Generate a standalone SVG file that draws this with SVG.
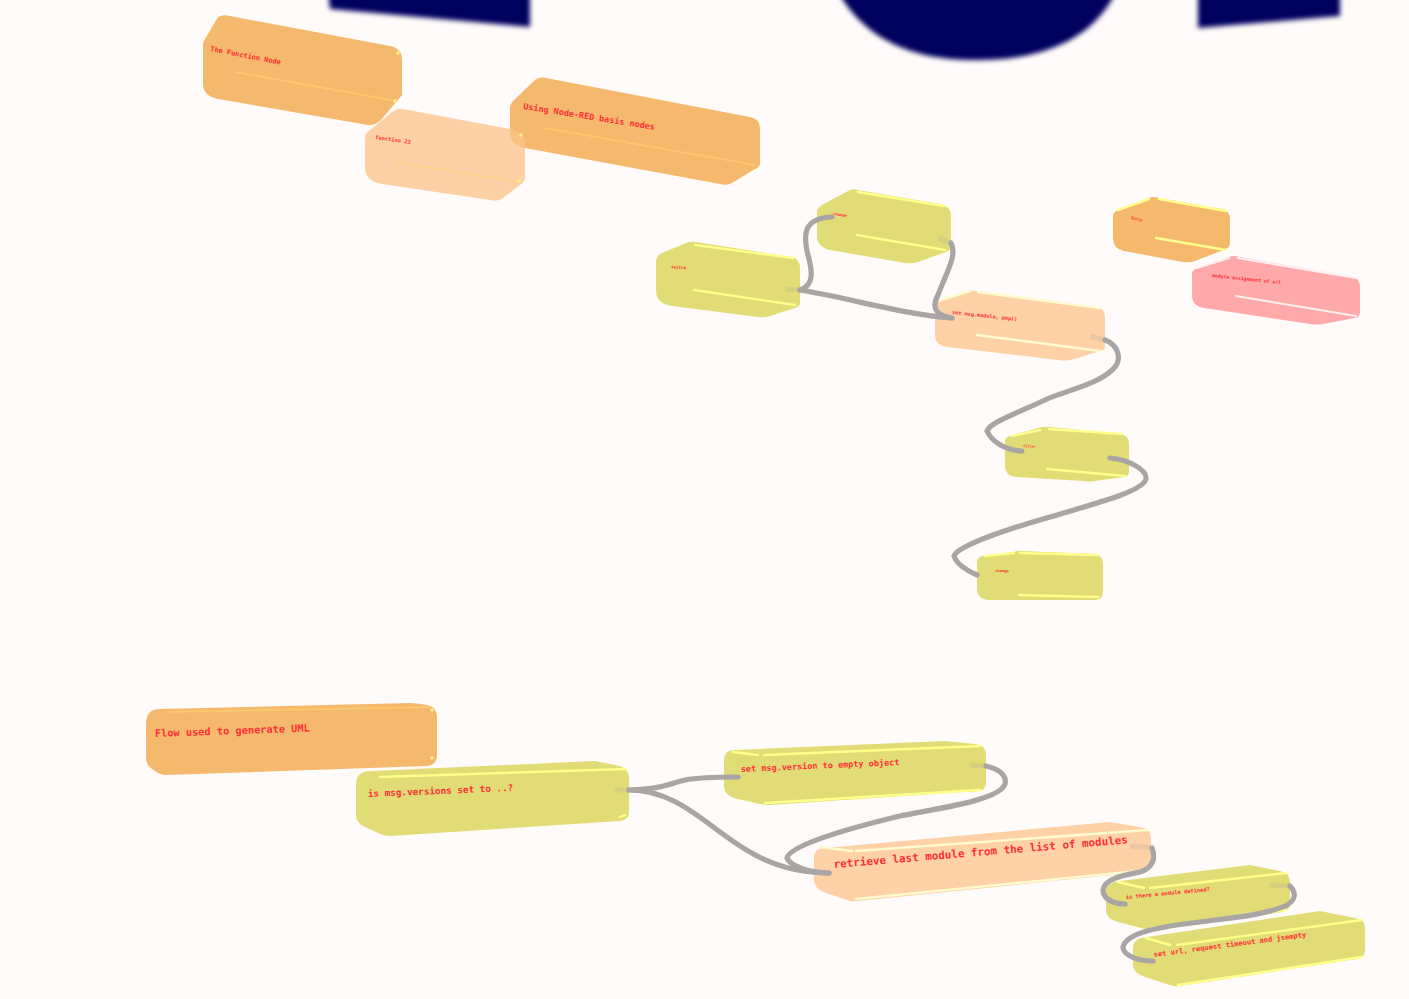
<svg xmlns="http://www.w3.org/2000/svg" width="1409" height="999" viewBox="0 0 1409 999">
<style>
.o{fill:#f5b96e}
.y{fill:#e2dc76}
.p{fill:#fed2a6}
.k{fill:#ffa9ab}
.t{fill:#fdc48a;opacity:.76}
.hl{fill:none;stroke:#ffff8c;stroke-width:2.4;stroke-linecap:round}
.hf{fill:none;stroke:#ffd66e;stroke-width:1.6;stroke-linecap:round;opacity:.6}
.hp{fill:none;stroke:#fffbd0;stroke-width:2.4;stroke-linecap:round}
.hk{fill:none;stroke:#fff0f0;stroke-width:2;stroke-linecap:round}
.dot{fill:#ffec8a}
text{font-family:"DejaVu Sans Mono","Liberation Mono",monospace;fill:#ff2f36;font-weight:700}
.w{fill:none;stroke:#a9a5a5;stroke-width:5.2;stroke-linecap:round}
.s{fill:none;stroke:#a9a5a5;stroke-width:5.2;opacity:.22}
.b{fill:#05005f}
</style>
<defs><filter id="blur" x="-10%" y="-30%" width="120%" height="160%"><feGaussianBlur stdDeviation="2.8"/></filter></defs>
<rect width="1409" height="999" fill="#fffbfa"/>
<g id="blobs" filter="url(#blur)">
<polygon class="b" points="328,-10 530,-10 530,27 330,9"/>
<path class="b" d="M838,-8C860,30 900,61 978,60C1050,60 1095,35 1116,-8Z"/>
<polygon class="b" points="1198,-10 1340,-10 1340,16 1198,28"/>
</g>
<g id="node-using"><path class="o" d="M535,80Q540,76 546,78L750,117Q760,119 760,128V163Q760,167 755,169L732,183Q727,186 720,184L525,148Q510,145 510,132V108Q510,104 514,100Z"/><path class="hf" d="M545,128L755,165"/><text transform="translate(523,109) rotate(9)" font-size="8.5">Using Node-RED basis nodes</text></g>
<g id="node-function23"><path class="t" d="M392,112Q397,108 403,109L510,129Q525,132 525,145V178Q525,182 520,185L503,198Q498,202 490,200L382,184Q365,181 365,168V138Q365,133 370,130Z"/><path class="hf" d="M395,162L520,182"/><circle class="dot" cx="521" cy="135" r="1.8"/><circle class="dot" cx="519" cy="181" r="1.8"/><text transform="translate(375,139) rotate(8)" font-size="5.4">function 23</text></g>
<g id="node-function"><path class="o" d="M218,17Q223,14 230,16L390,46Q402,48 402,60V95L381,120Q375,126 368,125L218,99Q203,96 203,84V45Q203,42 205,39Z"/><path class="hf" d="M235,72L397,101"/><circle class="dot" cx="398" cy="53" r="1.8"/><circle class="dot" cx="395" cy="101" r="1.8"/><text transform="translate(210,51) rotate(11)" font-size="7">The Function Node</text></g>
<g id="node-switch"><path class="y" d="M686,243Q690,241 696,242L790,257Q800,258 800,268V303Q800,306 795,308L770,316Q765,318 758,317L672,306Q656,304 656,290V262Q656,256 662,253Z"/><path class="hl" d="M694,290L795,305M695,245L793,258"/><text transform="translate(671,268) rotate(6)" font-size="4.2">switch</text></g>
<g id="node-change1"><path class="y" d="M848,191Q852,188 858,190L940,204Q951,206 951,216V246Q951,250 946,252L918,262Q912,264 905,263L830,250Q817,247 817,236V212Q817,208 822,205Z"/><path class="hl" d="M857,235L945,250M858,192L944,206"/><text transform="translate(833,215) rotate(8)" font-size="3.8">change</text></g>
<g id="node-setmodule"><path class="p" d="M968,291Q972,290 978,291L1097,307Q1105,308 1105,318V347Q1105,350 1100,351L1071,360Q1065,361 1058,360L947,347Q935,345 935,335V307Q935,303 940,300Z"/><path class="hp" d="M977,335L1100,351M978,292L1100,308M938,301L970,291"/><text transform="translate(952,314) rotate(6)" font-size="5.2">set msg.module, pop()</text></g>
<g id="node-filter"><path class="y" d="M1038,428Q1043,426 1050,427L1120,434Q1129,435 1129,444V472Q1129,476 1124,477L1095,481Q1090,482 1083,481L1016,477Q1005,476 1005,466V441Q1005,437 1010,436Z"/><path class="hl" d="M1047,469L1125,476M1049,429L1122,434M1012,436L1040,430"/><text transform="translate(1023,447) rotate(4)" font-size="3.5">filter</text></g>
<g id="node-change2"><path class="y" d="M1014,552Q1017,550 1022,551L1094,554Q1103,555 1103,564V592Q1103,600 1094,600L988,600Q977,599 977,589V562Q977,557 983,556Z"/><path class="hl" d="M1019,595L1098,597M1020,553L1098,555M985,556L1014,553"/><text transform="translate(995,572) rotate(1)" font-size="3.8">change</text></g>
<g id="node-early"><path class="o" d="M1149,198Q1153,196 1159,198L1222,209Q1230,210 1230,220V243Q1230,247 1226,249L1195,261Q1190,263 1183,262L1124,251Q1113,249 1113,238V216Q1113,212 1118,210Z"/><path class="hl" d="M1156,238L1226,250M1159,199L1226,211M1118,210L1149,199"/><text transform="translate(1131,219) rotate(12)" font-size="3.8">Early</text></g>
<g id="node-assign"><path class="k" d="M1229,257Q1233,255 1240,257L1352,277Q1360,278 1360,288V312Q1360,317 1355,318L1323,324Q1318,325 1310,324L1204,308Q1192,306 1192,295V274Q1192,270 1197,268Z"/><path class="hk" d="M1236,296L1356,316M1238,258L1356,278M1197,268L1229,258"/><text transform="translate(1212,277) rotate(6)" font-size="4.8">module assignment of url</text></g>
<g id="node-flow"><path class="o" d="M160,709L410,703Q425,704 430,706Q437,708 437,718V755Q437,765 427,766L167,775Q160,775 155,771Q146,766 146,758V724Q146,709 160,709Z"/><path class="hf" d="M167,712L432,707"/><circle class="dot" cx="432" cy="710" r="1.8"/><circle class="dot" cx="432" cy="758" r="1.8"/><text transform="translate(155,737) rotate(-2)" font-size="10.3">Flow used to generate UML</text></g>
<g id="node-ismsg"><path class="y" d="M372,771L595,761L615,765Q629,767 629,778V812Q629,820 620,821L390,836Q385,836 380,834L365,827Q356,823 356,815V784Q356,771 372,771Z"/><path class="hl" d="M380,777L625,769M620,817L625,815"/><text transform="translate(368,797) rotate(-2.4)" font-size="9.3">is msg.versions set to ..?</text></g>
<g id="node-setversion"><path class="y" d="M735,750L945,741L975,744Q986,745 986,755V783Q986,790 978,791L770,805Q765,805 760,804L738,799Q724,796 724,786V760Q724,750 735,750Z"/><path class="hl" d="M733,752L758,755M764,755L980,746M765,803L980,790"/><text transform="translate(741,772) rotate(-2.5)" font-size="8.5">set msg.version to empty object</text></g>
<g id="node-retrieve"><path class="p" d="M825,848L1110,822L1140,827Q1151,829 1151,838V862Q1151,871 1142,872L858,901Q852,902 847,900L826,893Q814,889 814,880V858Q814,848 825,848Z"/><path class="hp" d="M820,847L852,851M856,851L1148,830M856,899L1148,870"/><text transform="translate(834,868) rotate(-4.8)" font-size="10.9">retrieve last module from the list of modules</text></g>
<g id="node-isthere"><path class="y" d="M1120,881L1250,865L1280,871Q1290,873 1290,882V903Q1290,911 1282,912L1155,930Q1150,931 1145,929L1118,922Q1106,919 1106,910V892Q1106,882 1120,881Z"/><path class="hl" d="M1118,882L1144,888M1150,888L1286,873M1152,928L1286,910"/><text transform="translate(1126,899) rotate(-5.4)" font-size="5.4">is there a module defined?</text></g>
<g id="node-seturl"><path class="y" d="M1147,937L1320,911L1355,918Q1365,920 1365,928V950Q1365,958 1357,959L1180,986Q1175,987 1170,985L1145,977Q1133,973 1133,965V948Q1133,938 1147,937Z"/><path class="hl" d="M1146,938L1170,945M1177,945L1362,920M1178,985L1362,957"/><text transform="translate(1154,957) rotate(-7.5)" font-size="7.1">set url, request timeout and jsempty</text></g>
<g id="connectors">
<path class="s" d="M785,289L800,290M938,238L951,243M1090,336L1105,340M615,790L629,790M970,765L986,766M1130,846L1152,848M1270,885L1290,886"/>
<path class="w" d="M800,290C815,285 812,270 808,255C803,235 803,218 832,217"/>
<path class="w" d="M800,290C850,298 900,314 952,318"/>
<path class="w" d="M951,243C958,255 945,275 938,295C930,310 938,315 952,318"/>
<path class="w" d="M1105,340C1118,345 1122,358 1115,367C1100,385 1060,392 1045,400C1020,412 990,422 987,431C992,442 1005,450 1022,451"/>
<path class="w" d="M1110,458C1130,460 1147,470 1146,479C1143,492 1090,505 1050,517C1015,527 958,545 954,556C957,565 968,571 977,575"/>
<path class="w" d="M629,790C665,789 670,783 685,780C700,777 720,777 738,777"/>
<path class="w" d="M629,790C680,790 710,830 750,852C775,867 800,873 829,873"/>
<path class="w" d="M986,766C1000,769 1007,776 1005,784C1000,800 940,808 900,816C850,828 790,845 787,858C790,866 810,873 829,873"/>
<path class="w" d="M1152,848C1156,858 1153,868 1140,872C1125,875 1105,878 1103,890C1103,898 1112,904 1125,904"/>
<path class="w" d="M1290,886C1296,892 1297,900 1285,906C1265,915 1230,918 1200,922C1165,926 1124,932 1123,948C1125,957 1140,961 1153,961"/>
</g>
</svg>
